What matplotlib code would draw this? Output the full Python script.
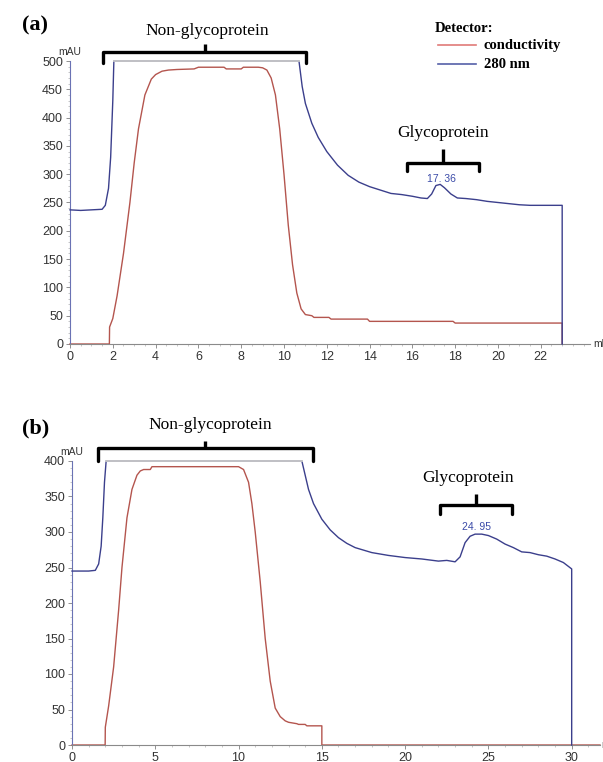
#!/usr/bin/env python3

import numpy as np
import matplotlib
matplotlib.use("Agg")
import matplotlib.pyplot as plt
from matplotlib.ticker import MultipleLocator

W, H = 603, 762
DPI = 100

RED = "#b4554e"
BLUE = "#3b3f8c"
GREY = "#c8c8c8"

# panel (a): elution volume (ml) and detector readings
a_uv_x = [0, 0.5, 1.0, 1.5, 1.65, 1.8, 1.9, 2.0, 2.05, 10.7, 10.85, 11.0, 11.3, 11.6,
          12.0, 12.5, 13.0, 13.5, 14.0, 14.5, 15.0, 15.5, 16.0, 16.4, 16.7, 16.9,
          17.1, 17.3, 17.5, 17.8, 18.1, 18.5, 19.0, 19.5, 20.0, 20.5, 21.0, 21.5,
          22.0, 22.5, 23.0, 23.0]
a_uv_y = [237, 236, 237, 238, 245, 275, 330, 430, 500, 500, 455, 425, 390, 365,
          340, 316, 298, 286, 278, 272, 266, 264, 261, 258, 257, 265,
          280, 282, 276, 265, 258, 257, 255, 252, 250, 248, 246, 245,
          245, 245, 245, 0]
a_cond_x = [0, 1.84, 1.85, 2.0, 2.2, 2.5, 2.8, 3.0, 3.2, 3.5, 3.8, 4.0, 4.3, 4.6,
            5.0, 5.8, 6.0, 7.2, 7.3, 8.0, 8.1, 8.8, 9.0, 9.2, 9.4, 9.6, 9.8,
            10.0, 10.2, 10.4, 10.6, 10.8, 11.0, 11.3, 11.4, 12.1, 12.2, 13.9,
            14.0, 17.9, 18.0, 23.0, 23.0]
a_cond_y = [0, 0, 30, 45, 85, 160, 250, 320, 380, 440, 468, 476, 482, 484,
            485, 486, 489, 489, 486, 486, 489, 489, 488, 484, 470, 440, 380,
            300, 210, 140, 90, 62, 52, 50, 47, 47, 44, 44,
            40, 40, 37, 37, 0]

# panel (b)
b_uv_x = [0, 0.5, 1.0, 1.4, 1.6, 1.75, 1.85, 1.95, 2.05, 13.8, 13.95, 14.2, 14.5,
          15.0, 15.5, 16.0, 16.5, 17.0, 18.0, 19.0, 20.0, 21.0, 22.0, 22.5,
          23.0, 23.3, 23.6, 23.9, 24.2, 24.6, 25.0, 25.5, 26.0, 26.5, 27.0,
          27.5, 28.0, 28.5, 29.0, 29.5, 30.0, 30.0]
b_uv_y = [245, 245, 245, 246, 255, 280, 320, 370, 400, 400, 385, 360, 340,
          318, 303, 292, 284, 278, 271, 267, 264, 262, 259, 260,
          258, 265, 285, 294, 297, 297, 295, 290, 283, 278, 272,
          271, 268, 266, 262, 257, 248, 0]
b_cond_x = [0, 1.99, 2.0, 2.2, 2.5, 2.8, 3.0, 3.3, 3.6, 3.9, 4.1, 4.3, 4.7, 4.8,
            5.0, 10.0, 10.3, 10.6, 10.8, 11.0, 11.3, 11.6, 11.9, 12.2, 12.5,
            12.8, 13.0, 13.5, 13.6, 14.0, 14.1, 15.0, 15.0, 31.7]
b_cond_y = [0, 0, 25, 55, 110, 190, 250, 320, 360, 380, 386, 388, 388, 392,
            392, 392, 388, 370, 340, 300, 230, 150, 90, 52, 40,
            34, 32, 30, 29, 29, 27, 27, 0, 0]

PEAK_A = "17. 36"
PEAK_B = "24. 95"

TICK_FONT = ["Liberation Sans", "DejaVu Sans"]
SERIF = ["Liberation Serif", "DejaVu Serif"]


def px_axes(fig, left, right, top, bottom):
    return fig.add_axes([left / W, 1 - bottom / H, (right - left) / W, (bottom - top) / H])


def style_axes(ax, xmax, ymax, xmaj, xmin, ymaj):
    for s in ("top", "right"):
        ax.spines[s].set_visible(False)
    ax.spines["left"].set_color("#6a72b4")
    ax.spines["bottom"].set_color("#8a8a8a")
    ax.set_xticks(np.arange(0, xmax - 0.5, xmaj))
    ax.set_yticks(np.arange(0, ymax + 1, ymaj))
    ax.xaxis.set_minor_locator(MultipleLocator(xmin))
    ax.yaxis.set_minor_locator(MultipleLocator(10))
    ax.set_xlim(0, xmax)
    ax.set_ylim(0, ymax)
    ax.tick_params(which="major", length=3, width=0.7, color="#909090", pad=2,
                   labelsize=9, labelcolor="#333333")
    ax.tick_params(which="minor", length=1.5, width=0.5, color="#b0b0b0")
    for lab in ax.get_xticklabels() + ax.get_yticklabels():
        lab.set_family(TICK_FONT)
    ax.annotate("mAU", xy=(0, 1), xycoords="axes fraction", xytext=(0, 3),
                textcoords="offset points", ha="center", va="bottom",
                fontsize=7.5, family=TICK_FONT, color="#333333")


def uv_line(ax, x, y, ymax):
    x = np.asarray(x, float)
    y = np.asarray(y, float)
    ax.plot(x, y, color=BLUE, lw=1.0, clip_on=False, zorder=3)
    sat = y >= ymax
    ax.plot(x[sat], y[sat], color=GREY, lw=1.3, clip_on=False, zorder=4)


def bracket(ax, x0, x1, y, yend, ytop, lw=2.4):
    xc = (x0 + x1) / 2
    ax.plot([x0, x0, x1, x1], [yend, y, y, yend], color="black", lw=lw,
            clip_on=False, solid_joinstyle="round", solid_capstyle="round")
    ax.plot([xc, xc], [y, ytop], color="black", lw=lw, clip_on=False,
            solid_capstyle="butt")


fig = plt.figure(figsize=(W / DPI, H / DPI), dpi=DPI)

# ---- (a)
ax = px_axes(fig, 70, 590, 61, 344)
style_axes(ax, 24.3, 500, 2, 0.5, 50)
ax.plot(a_cond_x, a_cond_y, color=RED, lw=1.0, clip_on=False, zorder=2)
uv_line(ax, a_uv_x, a_uv_y, 500)
ax.text(24.45, 0, "ml", fontsize=7.5, family=TICK_FONT, va="center", ha="left",
        color="#333333")
bracket(ax, 1.55, 11.05, 516, 496, 530)
ax.text(6.4, 553, "Non-glycoprotein", ha="center", va="center", fontsize=12.5,
        family=SERIF)
bracket(ax, 15.75, 19.1, 320, 306, 344)
ax.text(17.45, 372, "Glycoprotein", ha="center", va="center", fontsize=12.5,
        family=SERIF)
ax.text(17.35, 292, PEAK_A, ha="center", va="center", fontsize=7.5,
        family=TICK_FONT, color="#3a4aa8")

fig.text(22 / W, 1 - 25 / H, "(a)", fontsize=16, fontweight="bold", family=SERIF,
         ha="left", va="center")
fig.text(435 / W, 1 - 29 / H, "Detector:", fontsize=10.5, fontweight="bold",
         family=SERIF, ha="left", va="center")
fig.add_artist(plt.Line2D([438 / W, 476 / W], [1 - 45 / H] * 2, color="#e07a78", lw=1.2))
fig.add_artist(plt.Line2D([438 / W, 476 / W], [1 - 64 / H] * 2, color="#5560a8", lw=1.2))
fig.text(484 / W, 1 - 45 / H, "conductivity", fontsize=10.5, fontweight="bold",
         family=SERIF, ha="left", va="center")
fig.text(484 / W, 1 - 64 / H, "280 nm", fontsize=10.5, fontweight="bold",
         family=SERIF, ha="left", va="center")

# ---- (b)
bx = px_axes(fig, 72, 600, 461, 745)
style_axes(bx, 31.7, 400, 5, 1, 50)
bx.plot(b_cond_x, b_cond_y, color=RED, lw=1.0, clip_on=False, zorder=2)
uv_line(bx, b_uv_x, b_uv_y, 400)
bx.text(31.75, 0, "ml", fontsize=7.5, family=TICK_FONT, va="center", ha="left",
        color="#333333")
bracket(bx, 1.55, 14.45, 418, 400, 428)
bx.text(8.3, 451, "Non-glycoprotein", ha="center", va="center", fontsize=12.5,
        family=SERIF)
bracket(bx, 22.1, 26.4, 338, 326, 354)
bx.text(23.8, 376, "Glycoprotein", ha="center", va="center", fontsize=12.5,
        family=SERIF)
bx.text(24.3, 307, PEAK_B, ha="center", va="center", fontsize=7.5,
        family=TICK_FONT, color="#3a4aa8")

fig.text(22 / W, 1 - 428 / H, "(b)", fontsize=16, fontweight="bold", family=SERIF,
         ha="left", va="center")

fig.savefig("out.png", dpi=DPI)
